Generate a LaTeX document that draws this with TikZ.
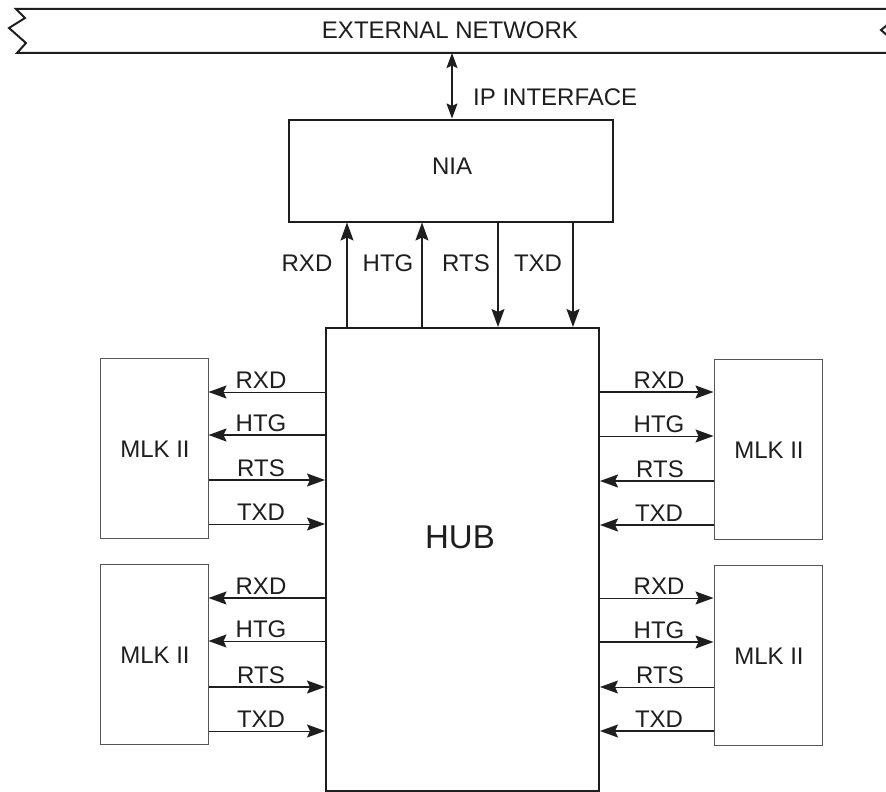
\documentclass[tikz,border=0pt]{standalone}
\usepackage{fontspec}
\setmainfont{Liberation Sans}
\usetikzlibrary{arrows.meta}
\definecolor{ink}{HTML}{1E1E1E}
\definecolor{thin}{HTML}{555555}
\begin{document}
\begin{tikzpicture}[x=1pt,y=-1pt,
  font=\fontsize{24}{28}\selectfont, text=ink,
  bigbox/.style={draw=ink, line width=2pt, inner sep=0pt},
  mlk/.style={draw=thin, line width=1pt, minimum width=108pt, minimum height=180pt, inner sep=0pt},
  arr/.style={line width=1.4pt, draw=ink, -{Stealth[length=18pt,width=13pt,inset=3pt]}},
  dbl/.style={line width=1.6pt, draw=ink, {Stealth[length=15pt,width=11pt,inset=2.5pt]}-{Stealth[length=15pt,width=11pt,inset=2.5pt]}},
  lbl/.style={anchor=base, inner sep=0pt}]
\clip (0,0) rectangle (886,792);
\fill[white] (0,0) rectangle (886,792);
% external network band
\draw[line width=2pt, draw=ink, line join=miter]
  (888,9) -- (16,9) -- (25,18) -- (9,28) -- (26,43) -- (17,53) -- (889,53);
\draw[line width=2pt, draw=ink, line join=miter]
  (888,9) -- (896,18) -- (881,30) -- (897,44) -- (889,53);
\node[lbl] (extlbl) at (450,39) {EXTERNAL NETWORK};
\coordinate (netb) at (452,53);
% NIA
\node[bigbox, minimum width=324pt, minimum height=102pt] (nia) at (451,170.5) {};
\node[lbl] (nialbl) at (452,174) {NIA};
\draw[dbl] (netb) -- (nia.north -| netb);
\node[lbl, anchor=base west] (iplbl) at (473,105) {IP INTERFACE};
% HUB
\node[bigbox, minimum width=273pt, minimum height=463pt] (hub) at (462.5,559.5) {};
\node[lbl, font=\fontsize{33}{38}\selectfont] (hublbl) at (460,548) {HUB};
% NIA <-> HUB
\draw[arr] (hub.north -| 347,0) -- (nia.south -| 347,0);
\draw[arr] (hub.north -| 422,0) -- (nia.south -| 422,0);
\draw[arr] (nia.south -| 498,0) -- (hub.north -| 498,0);
\draw[arr] (nia.south -| 573,0) -- (hub.north -| 573,0);
\node[lbl] (n1) at (307,271) {RXD};
\node[lbl] (n2) at (388,271) {HTG};
\node[lbl] (n3) at (466,271) {RTS};
\node[lbl] (n4) at (538,271) {TXD};
% MLK boxes
\node[mlk] (mlkA) at (154,448) {};
\node[mlk] (mlkB) at (154,654) {};
\node[mlk] (mlkC) at (768,449) {};
\node[mlk] (mlkD) at (768,655) {};
\node[lbl] (tA) at (155,457) {MLK II};
\node[lbl] (tB) at (155,663) {MLK II};
\node[lbl] (tC) at (769,458) {MLK II};
\node[lbl] (tD) at (769,664) {MLK II};
% left top
\draw[arr, line width=1pt] (hub.west |- 0,392) -- (mlkA.east |- 0,392);
\draw[arr, line width=1.8pt] (hub.west |- 0,435) -- (mlkA.east |- 0,435);
\draw[arr, line width=1.3pt] (mlkA.east |- 0,480) -- (hub.west |- 0,480);
\draw[arr, line width=1pt] (mlkA.east |- 0,524) -- (hub.west |- 0,524);
\node[lbl] (a1) at (261,388) {RXD};
\node[lbl] (a2) at (261,431) {HTG};
\node[lbl] (a3) at (261,476) {RTS};
\node[lbl] (a4) at (261,520) {TXD};
% left bottom
\draw[arr, line width=1.6pt] (hub.west |- 0,598) -- (mlkB.east |- 0,598);
\draw[arr, line width=1pt] (hub.west |- 0,641) -- (mlkB.east |- 0,641);
\draw[arr, line width=1.6pt] (mlkB.east |- 0,687) -- (hub.west |- 0,687);
\draw[arr, line width=1pt] (mlkB.east |- 0,731) -- (hub.west |- 0,731);
\node[lbl] (b1) at (261,594) {RXD};
\node[lbl] (b2) at (261,637) {HTG};
\node[lbl] (b3) at (261,683) {RTS};
\node[lbl] (b4) at (261,727) {TXD};
% right top
\draw[arr, line width=1.8pt] (hub.east |- 0,392) -- (mlkC.west |- 0,392);
\draw[arr, line width=1pt] (hub.east |- 0,436) -- (mlkC.west |- 0,436);
\draw[arr, line width=1.8pt] (mlkC.west |- 0,481) -- (hub.east |- 0,481);
\draw[arr, line width=1.8pt] (mlkC.west |- 0,525) -- (hub.east |- 0,525);
\node[lbl] (c1) at (659,388) {RXD};
\node[lbl] (c2) at (659,432) {HTG};
\node[lbl] (c3) at (660,477) {RTS};
\node[lbl] (c4) at (659,521) {TXD};
% right bottom
\draw[arr, line width=1pt] (hub.east |- 0,598) -- (mlkD.west |- 0,598);
\draw[arr, line width=1.6pt] (hub.east |- 0,642) -- (mlkD.west |- 0,642);
\draw[arr, line width=1pt] (mlkD.west |- 0,687) -- (hub.east |- 0,687);
\draw[arr, line width=1.6pt] (mlkD.west |- 0,731) -- (hub.east |- 0,731);
\node[lbl] (d1) at (659,594) {RXD};
\node[lbl] (d2) at (659,638) {HTG};
\node[lbl] (d3) at (660,683) {RTS};
\node[lbl] (d4) at (659,727) {TXD};
\end{tikzpicture}
\end{document}
